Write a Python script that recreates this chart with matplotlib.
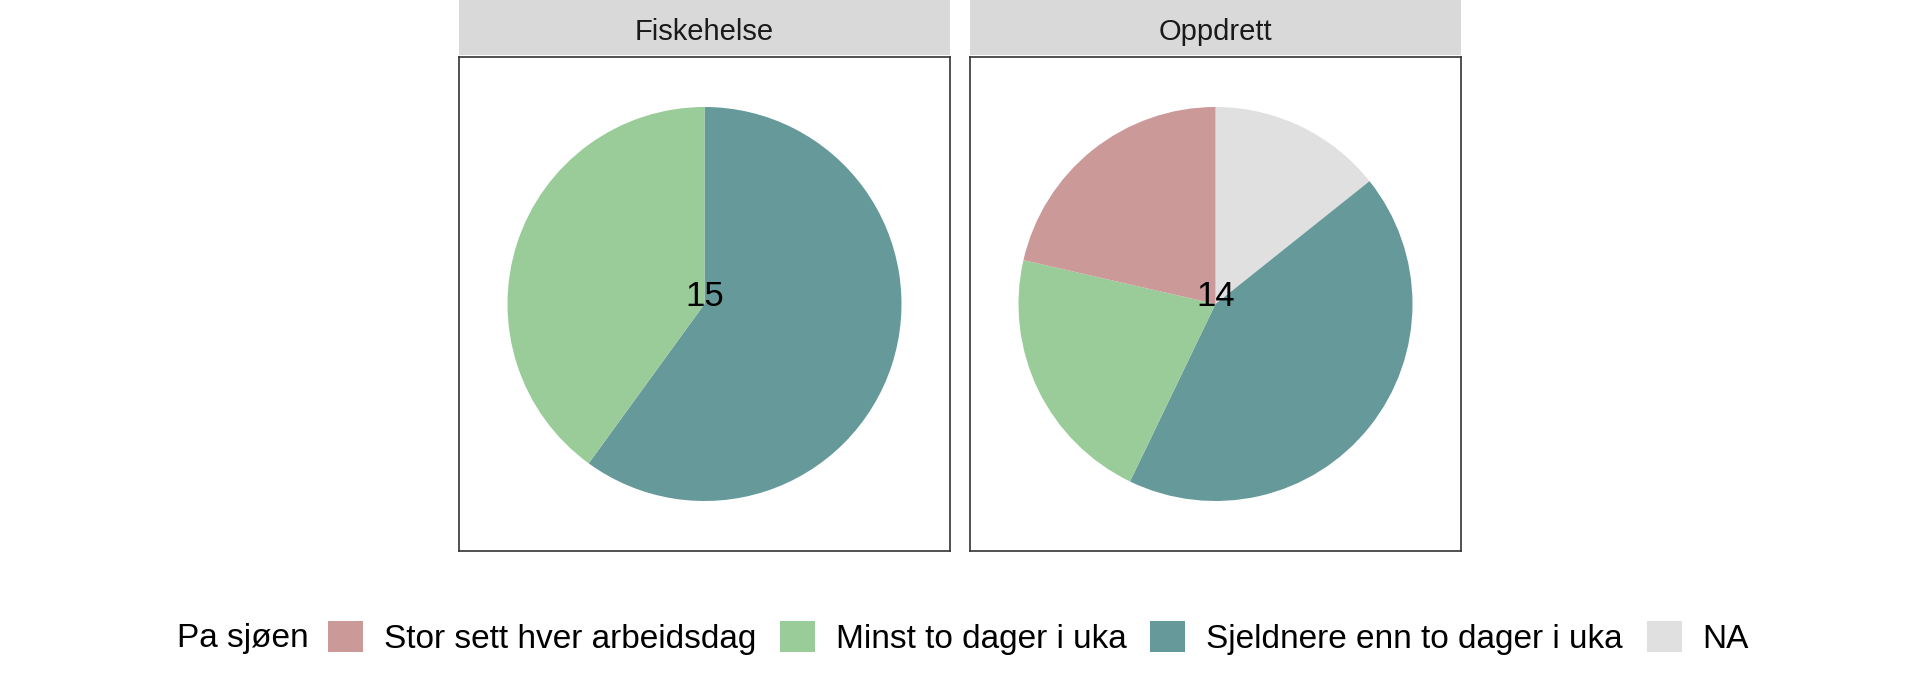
import numpy as np
import matplotlib.pyplot as plt
from matplotlib.patches import Patch

plt.rcParams["font.family"] = ["Liberation Sans", "DejaVu Sans"]

# data
panels = ["Fiskehelse", "Oppdrett"]
categories = ["Stor sett hver arbeidsdag", "Minst to dager i uka",
              "Sjeldnere enn to dager i uka", "NA"]
colors = ["#CC9999", "#99CC99", "#669999", "#E0E0E0"]
counts = {
    "Fiskehelse": [0, 6, 9, 0],
    "Oppdrett": [3, 3, 6, 2],
}
legend_title = "Pa sjøen"

W, H = 1920, 681
fig = plt.figure(figsize=(W / 100, H / 100), dpi=100)

panel_x = [459, 970]
panel_w = 491
panel_top, panel_bot = 57, 551
strip_top = 0
radius_px = 197


def fx(px):
    return px / W


def fy(py):
    return 1 - py / H


for name, x0 in zip(panels, panel_x):
    # strip
    sax = fig.add_axes([fx(x0), fy(panel_top - 2), fx(panel_w), (panel_top - 2 - strip_top) / H])
    sax.set_facecolor("#D9D9D9")
    sax.set_xticks([])
    sax.set_yticks([])
    for s in sax.spines.values():
        s.set_visible(False)
    sax.text(0.5, 0.42, name, ha="center", va="center", fontsize=21, color="#1A1A1A",
             transform=sax.transAxes)

    # panel
    ph = panel_bot - panel_top
    ax = fig.add_axes([fx(x0), fy(panel_bot), fx(panel_w), ph / H])
    # clockwise from top: NA, Sjeldnere, Minst, Stor
    order = [3, 2, 1, 0]
    vals = [counts[name][i] for i in order]
    cols = [colors[i] for i in order]
    ax.pie(vals, colors=cols, startangle=90, counterclock=False, frame=True,
           wedgeprops=dict(linewidth=0))
    ax.set_aspect("auto")
    ax.set_xlim(-panel_w / 2 / radius_px, panel_w / 2 / radius_px)
    ax.set_ylim(-ph / 2 / radius_px, ph / 2 / radius_px)
    ax.set_xticks([])
    ax.set_yticks([])
    for s in ax.spines.values():
        s.set_color("#333333")
        s.set_linewidth(1.2)
    ax.text(0, 0.04, str(sum(counts[name])), ha="center", va="center", fontsize=25,
            color="black")

# legend
handles = [Patch(facecolor=c, edgecolor="none") for c in colors]
fig.text(fx(177), fy(638), legend_title, ha="left", va="center", fontsize=24)
fig.legend(handles, categories, loc="center left", bbox_to_anchor=(fx(328), fy(638)),
           ncol=4, frameon=False, fontsize=24, handlelength=1.05, handleheight=1.05,
           handletextpad=0.62, columnspacing=0.72, borderaxespad=0, borderpad=0)

fig.savefig("out.png", dpi=100)
